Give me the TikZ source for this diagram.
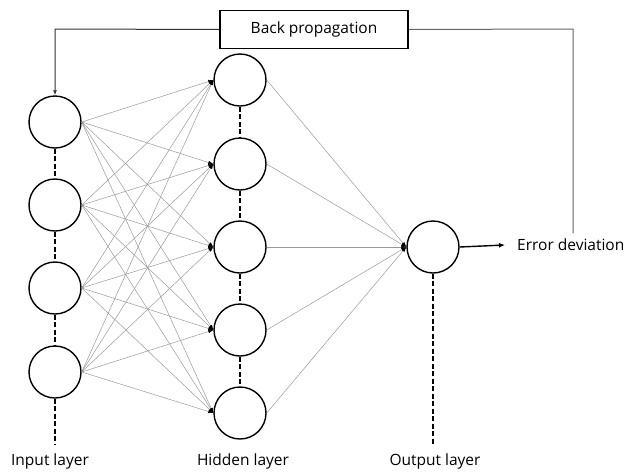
\documentclass[tikz,border=0pt]{standalone}
\usepackage{fontspec}
\setmainfont{Open Sans}
\usetikzlibrary{arrows.meta}
\begin{document}
\begin{tikzpicture}[x=1pt,y=-1pt,
  neuron/.style={circle,draw=black,line width=1.4pt,minimum size=52pt,inner sep=0pt},
  link/.style={draw=black!40,line width=0.5pt,-{Latex[length=5pt,width=3.5pt,black]}},
  dashlink/.style={draw=black,line width=2.2pt,dash pattern=on 5pt off 2.5pt},
  lbl/.style={font=\fontsize{15.5}{18}\selectfont,inner sep=0pt}
]
\useasboundingbox (0,0) rectangle (634,472);
% input layer
\foreach \i/\y in {1/122,2/205,3/288,4/372}
  \node[neuron] (i\i) at (55,\y) {};
% hidden layer
\foreach \j/\y in {1/80,2/164,3/247,4/330,5/413}
  \node[neuron] (h\j) at (240,\y) {};
% output
\node[neuron] (o) at (433,247) {};
% links
\foreach \i in {1,...,4}
  \foreach \j in {1,...,5}
    \draw[link] (i\i.east) -- (h\j.west);
\foreach \j in {1,...,5}
  \draw[link] (h\j.east) -- (o.west);
% dashed connectors between nodes
\draw[dashlink] (i1.south) -- (i2.north);
\draw[dashlink] (i2.south) -- (i3.north);
\draw[dashlink] (i3.south) -- (i4.north);
\draw[dashlink] (h1.south) -- (h2.north);
\draw[dashlink] (h2.south) -- (h3.north);
\draw[dashlink] (h3.south) -- (h4.north);
\draw[dashlink] (h4.south) -- (h5.north);
\coordinate (iend) at (55,445);
\coordinate (oend) at (433,445);
\draw[dashlink] (i4.south) -- (iend);
\draw[dashlink] (o.south) -- (oend);
% labels
\node[lbl] (li) at (50,461) {Input layer};
\node[lbl] (lh) at (243,461) {Hidden layer};
\node[lbl] (lo) at (435,461) {Output layer};
% error deviation
\node[lbl,anchor=west] (err) at (517,245) {Error deviation};
\draw[line width=1.4pt,-{Latex[length=6pt,width=5pt]}] (o.east) -- ([xshift=-12pt]err.west);
% back propagation box
\node[draw=black,line width=1.6pt,minimum width=188pt,minimum height=38pt,lbl,inner sep=0pt] (bp) at (314,29.5) {Back propagation};
\coordinate (rc) at (573,29);
\coordinate (rb) at (573,233);
\draw[black!60,line width=1pt] (bp.east) -- (rc) -- (rb);
\coordinate (lc) at (55,29);
\draw[black!80,line width=1pt,-{Latex[length=5pt,width=4pt]}] (bp.west) -- (lc) -- (i1.north);
\end{tikzpicture}
\end{document}
